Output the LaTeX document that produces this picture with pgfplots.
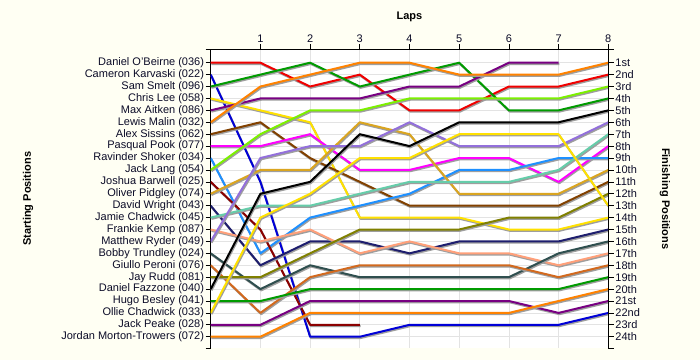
\documentclass[border=0pt]{standalone}
\usepackage{fontspec}
\setmainfont{Liberation Sans}
\usepackage{pgfplots}
\pgfplotsset{compat=1.18}
\definecolor{bgcream}{RGB}{255,255,243}
\definecolor{txt}{RGB}{12,12,40}
\definecolor{cRed}{RGB}{240,0,0}
\definecolor{cBlue}{RGB}{0,0,215}
\definecolor{cGreen}{RGB}{0,155,0}
\definecolor{cGold}{RGB}{255,225,0}
\definecolor{cPurple}{RGB}{120,0,130}
\definecolor{cOrange}{RGB}{255,130,0}
\definecolor{cBrown}{RGB}{130,65,0}
\definecolor{cMagenta}{RGB}{255,0,255}
\definecolor{cDodger}{RGB}{30,144,255}
\definecolor{cLawn}{RGB}{124,240,0}
\definecolor{cDarkRed}{RGB}{139,0,0}
\definecolor{cGoldenrod}{RGB}{218,165,32}
\definecolor{cNavy}{RGB}{30,30,110}
\definecolor{cAqua}{RGB}{102,205,170}
\definecolor{cSalmon}{RGB}{255,160,122}
\definecolor{cMedPurple}{RGB}{147,112,219}
\definecolor{cSlate}{RGB}{47,79,79}
\definecolor{cChoc}{RGB}{210,105,30}
\definecolor{cOlive}{RGB}{128,128,0}
\begin{document}
\begin{tikzpicture}[font=\fontsize{11bp}{13bp}\selectfont]
\fill[bgcream] (-210.7bp,-11.7bp) rectangle (489.3bp,348.3bp);
\begin{axis}[
  at={(0,0)}, anchor=south west,
  scale only axis, width=397.6bp, height=299bp,
  xmin=0, xmax=8, ymin=-0.125, ymax=24.97, y dir=reverse,
  axis x line*=top, axis y line*=left,
  axis line style={-, black, line width=0.8bp},
  axis background/.style={fill=white},
  xtick={1,...,8}, ytick={1,...,24},
  yticklabels={{Daniel O'Beirne (036)},{Cameron Karvaski (022)},{Sam Smelt (096)},{Chris Lee (058)},{Max Aitken (086)},{Lewis Malin (032)},{Alex Sissins (062)},{Pasqual Pook (077)},{Ravinder Shoker (034)},{Jack Lang (054)},{Joshua Barwell (025)},{Oliver Pidgley (074)},{David Wright (043)},{Jamie Chadwick (045)},{Frankie Kemp (087)},{Matthew Ryder (049)},{Bobby Trundley (024)},{Giullo Peroni (076)},{Jay Rudd (081)},{Daniel Fazzone (040)},{Hugo Besley (041)},{Ollie Chadwick (033)},{Jack Peake (028)},{Jordan Morton-Trowers (072)}},
  extra y ticks={-0.125,24.97}, extra y tick labels={}, extra y tick style={grid=none},
  grid=major, grid style={draw=black!11, line width=0.7bp},
  tick align=outside,
  tick style={black, line width=0.7bp},
  major tick length=5bp,
  /pgf/number format/assume math mode=true,
  ticklabel style={text=txt},
  yticklabel style={inner sep=1.5bp},
  xticklabel style={inner sep=1.5bp},
  xlabel={\textbf{Laps}},
  x label style={at={(axis description cs:0.5,1.108)}, anchor=center},
  ylabel={\textbf{Starting Positions}},
  y label style={at={(axis description cs:-0.4595,0.5)}, anchor=center},
  no markers,
  every axis plot/.append style={line width=2bp, line join=round,
    preaction={draw=black!38, line width=2bp, transform canvas={xshift=0.8bp, yshift=-1.3bp}}},
]
\addplot[cRed] coordinates {(0,1)(1,1)(2,3)(3,2)(4,5)(5,5)(6,3)(7,3)(8,2)};
\addplot[cBlue] coordinates {(0,2)(1,11)(2,24)(3,24)(4,23)(5,23)(6,23)(7,23)(8,22)};
\addplot[cGreen] coordinates {(0,3)(1,2)(2,1)(3,3)(4,2)(5,1)(6,5)(7,5)(8,4)};
\addplot[cGold] coordinates {(0,4)(1,5)(2,6)(3,14)(4,14)(5,14)(6,15)(7,15)(8,14)};
\addplot[cPurple] coordinates {(0,5)(1,4)(2,4)(3,4)(4,3)(5,3)(6,1)(7,1)};
\addplot[cOrange] coordinates {(0,6)(1,3)(2,2)(3,1)(4,1)(5,2)(6,2)(7,2)(8,1)};
\addplot[cBrown] coordinates {(0,7)(1,6)(2,9)(3,11)(4,13)(5,13)(6,13)(7,13)(8,11)};
\addplot[cMagenta] coordinates {(0,8)(1,8)(2,7)(3,10)(4,10)(5,9)(6,9)(7,11)(8,8)};
\addplot[cDodger] coordinates {(0,9)(1,17)(2,14)(3,13)(4,12)(5,10)(6,10)(7,9)(8,9)};
\addplot[cLawn] coordinates {(0,10)(1,7)(2,5)(3,5)(4,4)(5,4)(6,4)(7,4)(8,3)};
\addplot[cDarkRed] coordinates {(0,11)(1,15)(2,23)(3,23)};
\addplot[cGoldenrod] coordinates {(0,12)(1,10)(2,10)(3,6)(4,7)(5,12)(6,12)(7,12)(8,10)};
\addplot[cNavy] coordinates {(0,13)(1,18)(2,16)(3,16)(4,17)(5,16)(6,16)(7,16)(8,15)};
\addplot[cAqua] coordinates {(0,14)(1,13)(2,13)(3,12)(4,11)(5,11)(6,11)(7,10)(8,7)};
\addplot[cSalmon] coordinates {(0,15)(1,16)(2,15)(3,17)(4,16)(5,17)(6,17)(7,18)(8,17)};
\addplot[cMedPurple] coordinates {(0,16)(1,9)(2,8)(3,8)(4,6)(5,8)(6,8)(7,8)(8,6)};
\addplot[cSlate] coordinates {(0,17)(1,20)(2,18)(3,19)(4,19)(5,19)(6,19)(7,17)(8,16)};
\addplot[cChoc] coordinates {(0,18)(1,22)(2,19)(3,18)(4,18)(5,18)(6,18)(7,19)(8,18)};
\addplot[cOlive] coordinates {(0,19)(1,19)(2,17)(3,15)(4,15)(5,15)(6,14)(7,14)(8,12)};
\addplot[black] coordinates {(0,20)(1,12)(2,11)(3,7)(4,8)(5,6)(6,6)(7,6)(8,5)};
\addplot[cGreen] coordinates {(0,21)(1,21)(2,20)(3,20)(4,20)(5,20)(6,20)(7,20)(8,19)};
\addplot[cGold] coordinates {(0,22)(1,14)(2,12)(3,9)(4,9)(5,7)(6,7)(7,7)(8,13)};
\addplot[cPurple] coordinates {(0,23)(1,23)(2,21)(3,21)(4,21)(5,21)(6,21)(7,22)(8,21)};
\addplot[cOrange] coordinates {(0,24)(1,24)(2,22)(3,22)(4,22)(5,22)(6,22)(7,21)(8,20)};
\end{axis}
\begin{axis}[
  at={(0,0)}, anchor=south west,
  scale only axis, width=397.6bp, height=299bp,
  xmin=0, xmax=8, ymin=-0.125, ymax=24.97, y dir=reverse,
  hide x axis, axis y line*=right,
  axis line style={-, black, line width=0.8bp},
  ytick={1,...,24},
  yticklabels={1st,2nd,3rd,4th,5th,6th,7th,8th,9th,10th,11th,12th,13th,14th,15th,16th,17th,18th,19th,20th,21st,22nd,23rd,24th},
  extra y ticks={-0.125,24.97}, extra y tick labels={},
  tick align=outside,
  tick style={black, line width=0.7bp},
  major tick length=5.5bp,
  ticklabel style={text=txt},
  yticklabel style={inner sep=1.5bp},
  ylabel={\textbf{Finishing Positions}},
  y label style={at={(axis description cs:1.1426,0.5)}, anchor=center, rotate=180},
]
\addplot[draw=none] coordinates {(0,1)(8,24)};
\end{axis}
\pgfresetboundingbox
\path[use as bounding box] (-210.7bp,-11.7bp) rectangle (489.3bp,348.3bp);
\end{tikzpicture}
\end{document}
